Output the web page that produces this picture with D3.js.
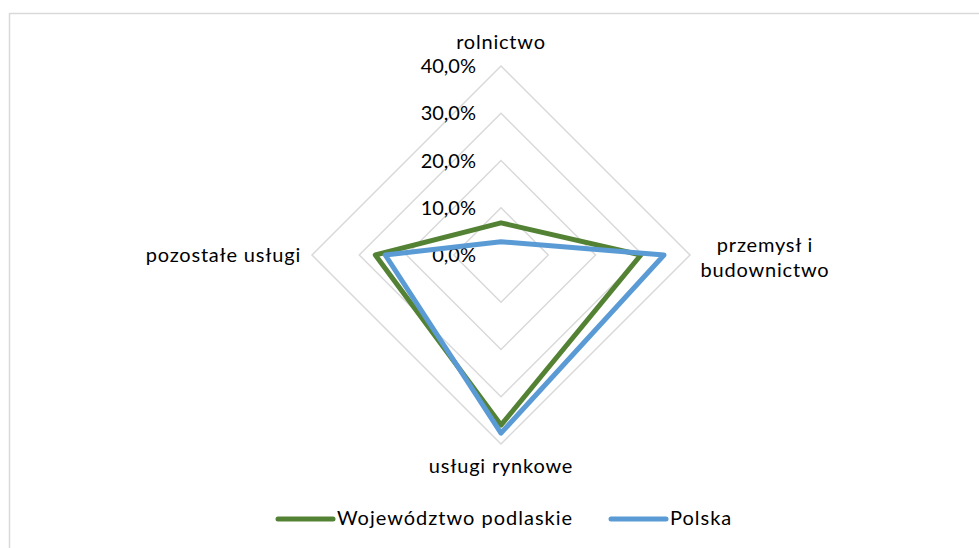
<!DOCTYPE html>
<html><head><meta charset="utf-8">
<script src="https://cdn.jsdelivr.net/npm/d3@7"></script>
<style>body{margin:0;background:#fff}svg{display:block;font-family:Lato,"Open Sans",sans-serif}</style>
</head><body><svg id="c" width="979" height="548"></svg>
<script>
const categories = ["rolnictwo", "przemysł i budownictwo", "usługi rynkowe", "pozostałe usługi"];
const categoryLines = [["rolnictwo"], ["przemysł i", "budownictwo"], ["usługi rynkowe"], ["pozostałe usługi"]];
const podlaskie = [6.8, 29.6, 36.0, 26.6];
const polska = [2.8, 34.5, 37.7, 24.5];
const seriesNames = ["Województwo podlaskie", "Polska"];
const seriesColors = ["#548235", "#5b9bd5"];
const ticks = [0, 10, 20, 30, 40];
const tickLabels = ["0,0%", "10,0%", "20,0%", "30,0%", "40,0%"];

const svg = d3.select("#c");
svg.append("rect").attr("x", 9.5).attr("y", 13.5).attr("width", 990).attr("height", 560)
  .attr("fill", "none").attr("stroke", "#d9d9d9").attr("stroke-width", 1.5);

const cx = 501, cy = 255;
const r = d3.scaleLinear().domain([0, 40]).range([0, 189]);
const angle = i => i * Math.PI / 2; // 0 = up, clockwise
const pt = (v, i) => [cx + r(v) * Math.sin(angle(i)), cy - r(v) * Math.cos(angle(i))];

const g = svg.append("g");
ticks.slice(1).forEach(t => {
  g.append("path").attr("d", d3.line()(categories.map((c, i) => pt(t, i))) + "Z")
    .attr("fill", "none").attr("stroke", "#d9d9d9").attr("stroke-width", 1.5);
});
ticks.forEach((t, k) => {
  g.append("text").attr("x", cx - 25).attr("y", cy - r(t)).attr("dy", "0.35em")
    .attr("text-anchor", "end").attr("font-size", 20).attr("fill", "#000").text(tickLabels[k]);
});
[podlaskie, polska].forEach((s, k) => {
  g.append("path").attr("d", d3.line()(s.map((v, i) => pt(v, i))) + "Z")
    .attr("fill", "none").attr("stroke", seriesColors[k]).attr("stroke-width", 5)
    .attr("stroke-linejoin", "round");
});
const labelPos = [
  {x: cx, y: 49, anchor: "middle"},
  {x: 765, y: 252, anchor: "middle"},
  {x: cx, y: 473, anchor: "middle"},
  {x: 301, y: 262, anchor: "end"}
];
categoryLines.forEach((lines, i) => {
  const t = g.append("text").attr("text-anchor", labelPos[i].anchor).attr("font-size", 20)
    .attr("letter-spacing", 0.8).attr("fill", "#000");
  lines.forEach((ln, j) => t.append("tspan").attr("x", labelPos[i].x).attr("y", labelPos[i].y + j * 25).text(ln));
});
const legendX = [278, 611];
seriesNames.forEach((n, k) => {
  svg.append("line").attr("x1", legendX[k]).attr("x2", legendX[k] + 55).attr("y1", 519).attr("y2", 519)
    .attr("stroke", seriesColors[k]).attr("stroke-width", 5).attr("stroke-linecap", "round");
  svg.append("text").attr("x", legendX[k] + 59).attr("y", 525).attr("font-size", 20)
    .attr("letter-spacing", 1).attr("fill", "#000").text(n);
});
</script></body></html>
